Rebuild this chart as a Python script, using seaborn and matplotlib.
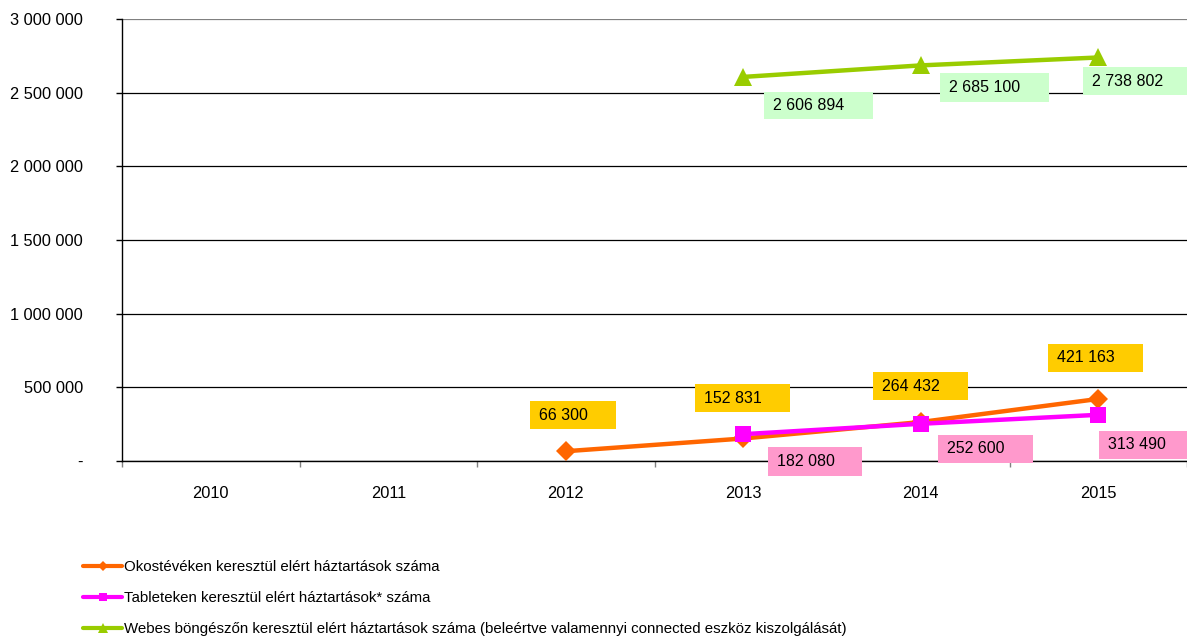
import numpy as np
import pandas as pd
import matplotlib
matplotlib.use("Agg")
import matplotlib.pyplot as plt
import matplotlib.transforms as mtransforms
from matplotlib.patches import Rectangle
from matplotlib.lines import Line2D
import seaborn as sns

years = ["2010", "2011", "2012", "2013", "2014", "2015"]
okos = [np.nan, np.nan, 66300, 152831, 264432, 421163]
tablet = [np.nan, np.nan, np.nan, 182080, 252600, 313490]
web = [np.nan, np.nan, np.nan, 2606894, 2685100, 2738802]
names = [
    "Okostévéken keresztül elért háztartások száma",
    "Tableteken keresztül elért háztartások* száma",
    "Webes böngészőn keresztül elért háztartások száma (beleértve valamennyi connected eszköz kiszolgálását)",
]
yticks = [0, 500000, 1000000, 1500000, 2000000, 2500000, 3000000]

line_colors = ["#FF6600", "#FF00FF", "#99CC00"]
box_colors = ["#FFCC00", "#FF99CC", "#CCFFCC"]
markers = ["D", "s", "^"]
msizes = [10, 11.5, 12.5]

# label box layout: (dx, dy_top, width, height) in pixels relative to point (image y down)
label_layout = [
    [None, None, (-36, -50, 86, 28), (-48, -54, 95, 28), (-48, -50, 95, 28), (-50, -55, 95, 28)],
    [None, None, None, (25, 13, 94, 29), (17, 11, 95, 28), (1, 16, 95, 28)],
    [None, None, None, (21, 15, 109, 27), (19, 8, 109, 29), (-15, 10, 109, 28)],
]

sns.set_theme(style="white")
plt.rcParams["font.family"] = ["Liberation Sans", "DejaVu Sans"]
plt.rcParams["text.color"] = "black"

W, H = 1187, 639
fig = plt.figure(figsize=(W / 100, H / 100), dpi=100)
ax = fig.add_axes([122 / W, 1 - 461 / H, (1187 - 122) / W, (461 - 19) / H])

series = [okos, tablet, web]
x = np.arange(len(years))
for vals, c, m, ms in zip(series, line_colors, markers, msizes):
    df = pd.DataFrame({"x": x, "v": vals}).dropna()
    sns.lineplot(data=df, x="x", y="v", ax=ax, color=c, marker=m, markersize=ms,
                 markeredgewidth=0, linewidth=3.2, legend=False, zorder=3)

ax.set_xlim(-0.5, len(years) - 0.5)
ax.set_ylim(0, 3000000)
ax.set_xlabel("")
ax.set_ylabel("")
ax.set_yticks(yticks)
ax.set_yticklabels(["-" if t == 0 else f"{t:,}".replace(",", " ") for t in yticks])
ax.set_xticks(x)
ax.set_xticklabels(years)
ax.set_xticks(np.arange(-0.5, len(years), 1.0), minor=True)
ax.tick_params(axis="x", which="major", length=0, pad=18, labelsize=11.8, colors="black")
ax.tick_params(axis="x", which="minor", length=4, width=1, color="#808080", bottom=True)
ax.tick_params(axis="y", which="major", length=4, width=1, color="black", left=True,
               pad=24, labelsize=11.8, labelcolor="black")
ax.grid(axis="y", color="black", linewidth=0.9)
ax.grid(axis="x", visible=False)
for s in ["top", "right"]:
    ax.spines[s].set_visible(False)
for s in ["left", "bottom"]:
    ax.spines[s].set_visible(True)
    ax.spines[s].set_color("black")
    ax.spines[s].set_linewidth(1)
ax.set_facecolor("white")
# top gridline drawn lighter as in the reference
ax.get_ygridlines()[-1].set_color("#808080")

fig.canvas.draw()
ident = mtransforms.IdentityTransform()
for si, vals in enumerate(series):
    for i, v in enumerate(vals):
        lay = label_layout[si][i]
        if lay is None or np.isnan(v):
            continue
        dx, dyt, w, h = lay
        px, py = ax.transData.transform((i, v))
        left = px + dx
        bottom = py - dyt - h
        fig.add_artist(Rectangle((left, bottom), w, h, transform=ident,
                                 facecolor=box_colors[si], edgecolor="none", zorder=5))
        txt = f"{int(v):,}".replace(",", " ")
        fig.text(left + 9, bottom + h / 2, txt, transform=ident, ha="left", va="center",
                 fontsize=11.5, color="black", zorder=6)

handles = [Line2D([0], [0], color=c, marker=m, markersize=ms * 0.55, markeredgewidth=0, linewidth=3)
           for c, m, ms in zip(line_colors, markers, msizes)]
leg = fig.legend(handles, names, loc="upper left", bbox_to_anchor=(83 / W, 1 - 560 / H),
                 frameon=False, fontsize=10.8, handlelength=2.6, handletextpad=0.1,
                 labelspacing=1.15, borderpad=0, borderaxespad=0)
for t in leg.get_texts():
    t.set_color("black")

fig.savefig("out.png", dpi=100)
